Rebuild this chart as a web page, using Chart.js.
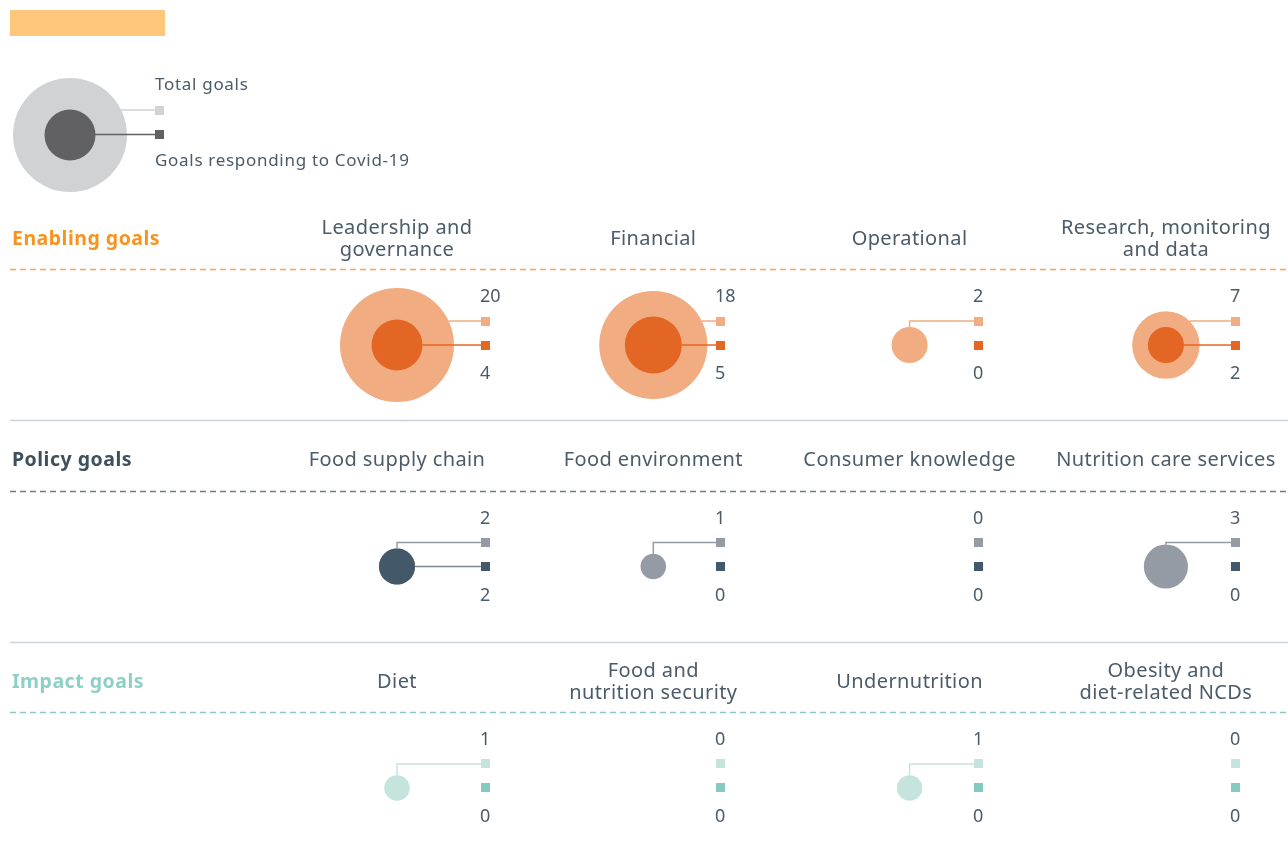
<!DOCTYPE html>
<html>
<head>
<meta charset="utf-8">
<script src="https://cdn.jsdelivr.net/npm/chart.js@4"></script>
<style>
  body { margin: 0; background: #fff; }
  canvas { display: block; }
</style>
</head>
<body>
<canvas id="goals-chart" width="1288" height="855"></canvas>
<script>
// goal groups (rows) and their categories (columns)
const groups = ['Enabling goals', 'Policy goals', 'Impact goals'];
const enablingCategories = ['Leadership and\ngovernance', 'Financial', 'Operational', 'Research, monitoring\nand data'];
const policyCategories = ['Food supply chain', 'Food environment', 'Consumer knowledge', 'Nutrition care services'];
const impactCategories = ['Diet', 'Food and\nnutrition security', 'Undernutrition', 'Obesity and\ndiet-related NCDs'];

// number of goals
const enablingTotal = [20, 18, 2, 7];
const enablingCovid = [4, 5, 0, 2];
const policyTotal = [2, 1, 0, 3];
const policyCovid = [2, 0, 0, 0];
const impactTotal = [1, 0, 1, 0];
const impactCovid = [0, 0, 0, 0];

const categories = [enablingCategories, policyCategories, impactCategories];
const totals = [enablingTotal, policyTotal, impactTotal];
const covids = [enablingCovid, policyCovid, impactCovid];

// styles per row
const lightColors = ['#f1ad81', '#959ba5', '#c5e4de'];
const darkColors = ['#e36624', '#435869', '#86c9c1'];
const headerColors = ['#f7931e', '#3e4f5e', '#8ecfc8'];
const dashColors = ['#f7a64f', '#6f7d89', '#8ccac3'];
const textColor = '#4b5b69';
const font = '"Noto Sans"';
const squareDX = [84, 63, 64, 65]; // left edge of squares, right of each circle centre (px)

// circle area follows the number of goals
function radius(v) {
    return 12.75 * Math.sqrt(v);
}

function buildPoints(source) {
    const pts = [];
    source.forEach((row, r) => {
        row.forEach((v, c) => {
            pts.push({ x: c, y: r, r: radius(v), v: v });
        });
    });
    return pts;
}

const totalPoints = buildPoints(totals);
const covidPoints = buildPoints(covids);

function drawText(ctx, text, x, y, opts) {
    ctx.save();
    ctx.font = opts.font;
    ctx.fillStyle = opts.color;
    ctx.textAlign = opts.align || 'left';
    ctx.textBaseline = 'middle';
    ctx.letterSpacing = (opts.spacing || 0) + 'px';
    const lines = text.split('\n');
    const lh = opts.lineHeight || 22;
    const start = y - (lines.length - 1) * lh / 2;
    lines.forEach((l, i) => ctx.fillText(l, x, start + i * lh));
    ctx.restore();
}

const decorPlugin = {
    id: 'decor',
    beforeDatasetsDraw(chart) {
        const ctx = chart.ctx;
        const xs = chart.scales.x;
        const ys = chart.scales.y;

        // top bar
        ctx.fillStyle = '#ffc77c';
        ctx.fillRect(10, 10, 155, 26);

        // legend
        ctx.fillStyle = '#d1d2d4';
        ctx.beginPath(); ctx.arc(70, 135, 57, 0, Math.PI * 2); ctx.fill();
        ctx.fillStyle = '#616163';
        ctx.beginPath(); ctx.arc(70, 135, 25.5, 0, Math.PI * 2); ctx.fill();
        ctx.lineWidth = 1.5;
        ctx.strokeStyle = '#d1d2d4';
        ctx.beginPath(); ctx.moveTo(121, 110); ctx.lineTo(156, 110); ctx.stroke();
        ctx.strokeStyle = '#616163';
        ctx.beginPath(); ctx.moveTo(95, 134.5); ctx.lineTo(156, 134.5); ctx.stroke();
        ctx.fillStyle = '#d1d2d4';
        ctx.fillRect(155, 106, 9, 9);
        ctx.fillStyle = '#616163';
        ctx.fillRect(155, 130, 9, 9);
        drawText(ctx, 'Total goals', 155, 85, { font: '17px ' + font, color: textColor, spacing: 0.7 });
        drawText(ctx, 'Goals responding to Covid-19', 155, 161, { font: '17px ' + font, color: textColor, spacing: 0.7 });

        groups.forEach((g, r) => {
            const cy = ys.getPixelForValue(r);
            // header
            drawText(ctx, g, 12, cy - 106, { font: 'bold 19.5px ' + font, color: headerColors[r], spacing: 0.5 });
            categories[r].forEach((cat, c) => {
                drawText(ctx, cat, xs.getPixelForValue(c), cy - 106,
                    { font: '20px ' + font, color: textColor, align: 'center', lineHeight: 22, spacing: 0.4 });
            });
            // dashed rule
            ctx.save();
            ctx.strokeStyle = dashColors[r];
            ctx.lineWidth = 1.5;
            ctx.setLineDash([6, 4]);
            ctx.beginPath();
            ctx.moveTo(10, Math.round(cy - 76) + 0.5);
            ctx.lineTo(1288, Math.round(cy - 76) + 0.5);
            ctx.stroke();
            ctx.restore();
            // separator
            if (r < groups.length - 1) {
                ctx.strokeStyle = '#cbd5dc';
                ctx.lineWidth = 1.5;
                ctx.beginPath();
                ctx.moveTo(10, Math.round(cy + 75) + 0.5);
                ctx.lineTo(1288, Math.round(cy + 75) + 0.5);
                ctx.stroke();
            }
        });
    },
    afterDatasetsDraw(chart) {
        const ctx = chart.ctx;
        const xs = chart.scales.x;
        const ys = chart.scales.y;
        totals.forEach((row, r) => {
            row.forEach((tv, c) => {
                const cv = covids[r][c];
                const cx = xs.getPixelForValue(c);
                const cy = ys.getPixelForValue(r);
                const sx = Math.round(cx + squareDX[c]);
                const topY = cy - 24;
                const R = radius(tv);
                const rc = radius(cv);
                ctx.lineWidth = 1.5;
                // total connector
                if (tv > 0) {
                    ctx.strokeStyle = lightColors[r];
                    ctx.beginPath();
                    if (R > 24) {
                        ctx.moveTo(cx + Math.sqrt(R * R - 24 * 24), topY);
                    } else {
                        ctx.moveTo(cx, cy - R);
                        ctx.lineTo(cx, topY);
                    }
                    ctx.lineTo(sx, topY);
                    ctx.stroke();
                }
                // covid connector
                if (cv > 0) {
                    ctx.strokeStyle = r === 1 ? '#7d8893' : darkColors[r];
                    ctx.beginPath();
                    ctx.moveTo(cx + rc, cy);
                    ctx.lineTo(sx, cy);
                    ctx.stroke();
                }
                // squares
                ctx.fillStyle = lightColors[r];
                ctx.fillRect(sx, Math.round(topY - 4.5), 9, 9);
                ctx.fillStyle = darkColors[r];
                ctx.fillRect(sx, Math.round(cy - 4.5), 9, 9);
                // numbers
                drawText(ctx, String(tv), sx - 1, cy - 48, { font: '18px ' + font, color: textColor });
                drawText(ctx, String(cv), sx - 1, cy + 29, { font: '18px ' + font, color: textColor });
            });
        });
    }
};

const ctx = document.getElementById('goals-chart').getContext('2d');
const goalsChart = new Chart(ctx, {
    type: 'bubble',
    data: {
        datasets: [
            {
                label: 'Goals responding to Covid-19',
                data: covidPoints,
                backgroundColor: covidPoints.map(p => darkColors[p.y]),
                borderWidth: 0,
                order: 0
            },
            {
                label: 'Total goals',
                data: totalPoints,
                backgroundColor: totalPoints.map(p => lightColors[p.y]),
                borderWidth: 0,
                order: 1
            }
        ]
    },
    options: {
        responsive: false,
        animation: false,
        events: [],
        clip: false,
        layout: { padding: 0, autoPadding: false },
        plugins: {
            legend: { display: false },
            tooltip: { enabled: false }
        },
        scales: {
            x: { type: 'linear', min: -1.549, max: 3.4764, display: false },
            y: { type: 'linear', min: -1.5576, max: 2.3025, reverse: true, display: false }
        }
    },
    plugins: [decorPlugin]
});
</script>
</body>
</html>
